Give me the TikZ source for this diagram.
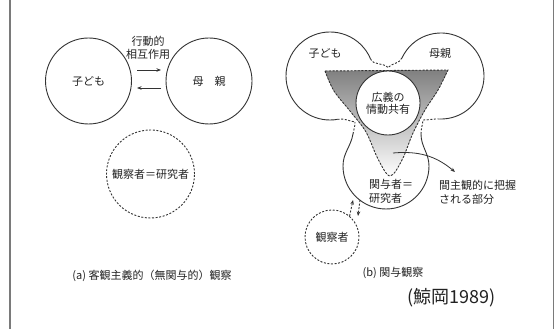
\documentclass[tikz,border=0pt]{standalone}
\usepackage{fontspec}
\setmainfont{Noto Sans CJK JP}
\usetikzlibrary{arrows.meta}
\definecolor{ink}{HTML}{333333}
\definecolor{txt}{HTML}{222222}
\definecolor{shade}{HTML}{888888}
\definecolor{framec}{HTML}{7A7A7A}
\begin{document}
\begin{tikzpicture}[x=1pt,y=1pt,
  line/.style={draw=ink, line width=0.9pt},
  dsh/.style={draw=ink, line width=0.9pt, dash pattern=on 2pt off 1.6pt},
  lbl/.style={text=txt, font=\fontsize{11}{12.5}\selectfont, inner sep=0pt, align=center},
  circ/.style={circle, draw=ink, line width=0.9pt, inner sep=0pt, text=txt,
    font=\fontsize{11}{12.5}\selectfont, align=center},
  tip/.style={-{Stealth[length=4.5pt,width=3.5pt]}}
]
\useasboundingbox (0,0) rectangle (555,329);
\fill[white] (0,0) rectangle (555,329);
\draw[framec, line width=1.5pt] (9.8,0) -- (9.8,329);
\draw[framec, line width=1.5pt] (553.5,0) -- (553.5,329);

% ---------- (a) ----------
\node[circ, minimum size=86pt] (child) at (88.5,248) {子ども};
\node[circ, minimum size=86pt] (mother) at (209,248) {母　親};
\node[lbl] (inter) at (148,281) {行動的\\相互作用};
\coordinate (r1s) at (137,259); \coordinate (r1e) at (161,259);
\coordinate (r2s) at (161,241); \coordinate (r2e) at (137,241);
\draw[line, tip] (r1s) -- (r1e);
\draw[line, tip] (r2s) -- (r2e);
\node[circ, dsh, minimum size=88pt] (obsA) at (150.5,155) {観察者＝研究者};
\node[lbl] (capA) at (152,53) {(a) 客観主義的（無関与的）観察};

% ---------- (b) ----------
\fill[shade] plot[smooth, tension=0.55] coordinates {(325,258) (334,238) (350,218) (366,197) (378,170) (390,153) (402,169) (413,196) (425,219) (438,239) (448,259)} -- cycle;
\draw[dsh] plot[smooth, tension=0.55] coordinates {(325,258) (334,238) (350,218) (366,197) (378,170) (390,153) (402,169) (413,196) (425,219) (438,239) (448,259)} -- cycle;

\coordinate (T) at (388,261.5);
\coordinate (Lc) at (355,207);
\coordinate (Rc) at (423,209);
% left lobe
\draw[line] (330,253) ++(23:44) coordinate (L1) arc[start angle=23,end angle=280,radius=44pt] coordinate (L2);
\draw[dsh] (L1) to[out=-67,in=135] (T);
\draw[dsh] (L2) to[out=10,in=170] (Lc);
% right lobe
\draw[line] (441,253) ++(155:43) coordinate (R1) arc[start angle=155,end angle=-92,radius=43pt] coordinate (R2);
\draw[dsh] (R1) to[out=245,in=45] (T);
\draw[dsh] (R2) to[out=178,in=0] (Rc);
% lower lobe
\coordinate (B1) at (353,195);
\coordinate (B2) at (421,195);
\draw[line] (B1) to[out=-100,in=90] (343,163) arc[start angle=180,end angle=360,radius=43pt] to[out=90,in=-90] (B2);
\draw[dsh] (B1) to[out=80,in=-90] (Lc);
\draw[dsh] (B2) to[out=90,in=-95] (Rc);

\node[circ, fill=white, minimum size=64pt, font=\fontsize{11}{12}\selectfont] (share) at (388,226) {広義の\\情動共有};
\node[lbl] (kodomoB) at (325,276) {子ども};
\node[lbl] (hahaB) at (440,276) {母親};
\node[lbl, align=left, anchor=west, font=\fontsize{11}{14}\selectfont] (kanyo) at (369,138) {関与者＝\\研究者};
\node[lbl, align=left, anchor=west, font=\fontsize{11}{14}\selectfont] (inter2) at (439,137) {間主観的に把握\\される部分};
\coordinate (as) at (393,176);
\coordinate (ae) at (455,157);
\draw[line, line width=0.8pt, tip] (as) to[out=5,in=140] (ae);

\node[circ, dsh, minimum size=54pt] (obsB) at (332,92) {観察者};
\coordinate (k1) at (353,129);
\coordinate (k2) at (360,129);
\coordinate (o2) at (358,113);
\draw[dsh, tip] (obsB.50) -- (k1);
\draw[dsh, tip] (k2) -- (o2);
\node[lbl] (capB) at (393,56) {(b) 関与観察};

\node[text=txt, font=\fontsize{18}{20}\selectfont, inner sep=0pt] (src) at (451.5,31) {(鯨岡1989)};
\end{tikzpicture}
\end{document}
